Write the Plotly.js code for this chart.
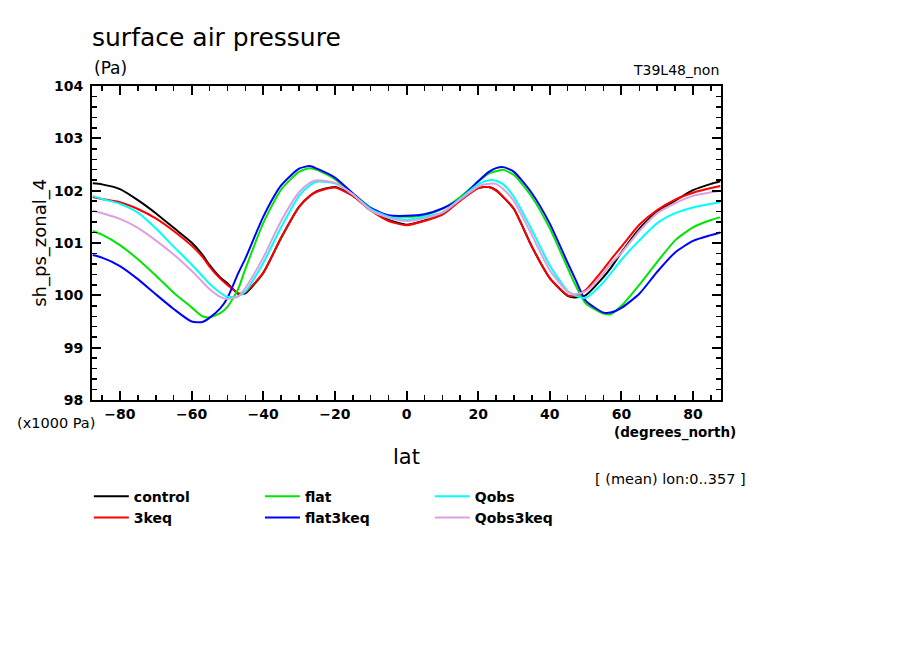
<!DOCTYPE html>
<html>
<head>
<meta charset="utf-8">
<script src="https://cdn.plot.ly/plotly-3.0.1.min.js"></script>
<style>html,body{margin:0;padding:0;background:#fff;}#chart{width:904px;height:654px;}</style>
</head>
<body>
<div id="chart"></div>
<script>
// latitude (degrees_north)
var lat = [-87.6,-85,-80,-75,-70,-65,-60,-57,-55,-52,-50,-47,-45,-40,-35,-30,-27,-25,-20,-15,-10,-5,0,5,10,15,20,23,25,27,30,35,40,45,47,50,55,57,60,65,70,75,80,85,87.6];

// surface air pressure (x1000 Pa)
var control  = [102.14,102.12,102.03,101.82,101.57,101.29,101.01,100.78,100.58,100.34,100.23,100.03,100.04,100.43,101.10,101.69,101.90,101.99,102.07,101.91,101.63,101.44,101.35,101.43,101.55,101.82,102.05,102.07,102.01,101.88,101.65,100.93,100.33,99.99,99.96,100.00,100.35,100.52,100.82,101.27,101.60,101.81,102.01,102.13,102.18];
var keq3     = [101.88,101.84,101.78,101.65,101.47,101.23,100.95,100.74,100.55,100.32,100.20,100.04,100.06,100.43,101.10,101.69,101.90,101.98,102.06,101.90,101.62,101.42,101.34,101.42,101.54,101.81,102.05,102.07,102.00,101.88,101.65,100.93,100.33,100.00,99.99,100.10,100.50,100.68,100.93,101.35,101.63,101.83,101.96,102.05,102.09];
var flat     = [101.23,101.16,100.96,100.69,100.38,100.05,99.77,99.60,99.58,99.66,99.78,100.12,100.50,101.38,102.02,102.36,102.43,102.40,102.22,101.93,101.65,101.52,101.50,101.53,101.65,101.88,102.17,102.33,102.37,102.40,102.30,101.88,101.28,100.52,100.22,99.85,99.65,99.64,99.80,100.20,100.64,101.05,101.30,101.44,101.49];
var flat3keq = [100.77,100.72,100.56,100.31,100.02,99.74,99.50,99.49,99.57,99.75,99.95,100.42,100.70,101.50,102.10,102.42,102.47,102.42,102.25,101.95,101.67,101.53,101.52,101.55,101.66,101.85,102.18,102.36,102.43,102.45,102.36,101.95,101.37,100.62,100.33,99.90,99.67,99.67,99.76,100.03,100.45,100.82,101.04,101.15,101.20];
var qobs     = [101.90,101.84,101.75,101.58,101.28,100.93,100.59,100.37,100.22,100.05,99.97,99.98,100.07,100.62,101.30,101.90,102.10,102.17,102.14,101.93,101.65,101.50,101.44,101.50,101.58,101.85,102.12,102.20,102.19,102.12,101.88,101.25,100.57,100.08,100.00,99.95,100.25,100.42,100.68,101.05,101.38,101.57,101.68,101.75,101.78];
var qobs3keq = [101.62,101.57,101.46,101.29,101.05,100.78,100.47,100.26,100.12,99.97,99.93,99.98,100.14,100.72,101.42,101.97,102.15,102.20,102.15,101.93,101.62,101.48,101.42,101.47,101.58,101.83,102.08,102.13,102.13,102.03,101.80,101.15,100.48,100.07,100.02,100.08,100.42,100.60,100.81,101.23,101.57,101.76,101.90,101.97,102.00];

var seriesNames  = ['control','3keq','flat','flat3keq','Qobs','Qobs3keq'];
var seriesValues = [control, keq3, flat, flat3keq, qobs, qobs3keq];
var seriesColors = ['#000000','#ff0000','#00e600','#0000ff','#00ffff','#dda0dd'];
var seriesLegend = ['legend','legend','legend2','legend2','legend3','legend3'];

var xTicks = [-80,-60,-40,-20,0,20,40,60,80];
var yTicks = [98,99,100,101,102,103,104];

var FONT = '"DejaVu Sans", "Liberation Sans", sans-serif';

var traces = seriesNames.map(function(n,i){
  return {
    x: lat, y: seriesValues[i], name: n, type: 'scatter', mode: 'lines',
    legend: seriesLegend[i],
    line: {color: seriesColors[i], width: 2, shape: 'spline', smoothing: 0.6},
    hoverinfo: 'skip'
  };
});

var axisCommon = {
  showline: true, linecolor: '#000', linewidth: 2, mirror: 'ticks',
  ticks: 'inside', ticklen: 9, tickwidth: 2, tickcolor: '#000',
  showgrid: false, zeroline: false,
  tickfont: {family: FONT, size: 14, color: '#000', weight: 'bold'}
};

function legendAt(x) {
  return {
    orientation: 'v', x: x, xanchor: 'left', y: -0.257, yanchor: 'top',
    font: {family: FONT, size: 14, color: '#000', weight: 'bold'},
    itemwidth: 35, tracegroupgap: 0, bgcolor: 'rgba(0,0,0,0)', traceorder: 'normal'
  };
}

var layout = {
  width: 904, height: 654,
  margin: {l: 92, r: 183, t: 86, b: 254, pad: 0},
  paper_bgcolor: '#fff', plot_bgcolor: '#fff',
  showlegend: true,
  legend: legendAt(-0.005),
  legend2: legendAt(0.267),
  legend3: legendAt(0.537),
  xaxis: Object.assign({}, axisCommon, {
    range: [-87.8, 87.8], tickmode: 'array', tickvals: xTicks,
    minor: {dtick: 5, tick0: 0, ticks: 'inside', ticklen: 5, tickwidth: 1.5, tickcolor: '#000'}
  }),
  yaxis: Object.assign({}, axisCommon, {
    range: [98, 104], tickmode: 'array', tickvals: yTicks, ticklabelstandoff: 4,
    minor: {dtick: 0.2, tick0: 98, ticks: 'inside', ticklen: 5, tickwidth: 1.5, tickcolor: '#000'}
  }),
  annotations: [
    {xref:'paper', yref:'paper', x:-0.003, y:1.153, xanchor:'left', yanchor:'middle', showarrow:false,
     text:'surface air pressure', font:{family:FONT, size:25, color:'#000'}},
    {xref:'paper', yref:'paper', x:0, y:1.057, xanchor:'left', yanchor:'middle', showarrow:false,
     text:'(Pa)', font:{family:FONT, size:17, color:'#000'}},
    {xref:'paper', yref:'paper', x:1, y:1.05, xanchor:'right', yanchor:'middle', showarrow:false,
     text:'T39L48_non', font:{family:FONT, size:14, color:'#000'}},
    {xref:'paper', yref:'paper', x:-0.083, y:0.5, xanchor:'center', yanchor:'middle', showarrow:false, textangle:-90,
     text:'sh_ps_zonal_4', font:{family:FONT, size:18, color:'#000'}},
    {xref:'paper', yref:'paper', x:-0.123, y:-0.073, xanchor:'left', yanchor:'middle', showarrow:false,
     text:'(x1000 Pa)', font:{family:FONT, size:14.5, color:'#000'}},
    {xref:'paper', yref:'paper', x:1.027, y:-0.105, xanchor:'right', yanchor:'middle', showarrow:false,
     text:'(degrees_north)', font:{family:FONT, size:13.5, color:'#000', weight:'bold'}},
    {xref:'paper', yref:'paper', x:0.5, y:-0.18, xanchor:'center', yanchor:'middle', showarrow:false,
     text:'lat', font:{family:FONT, size:21, color:'#000'}},
    {xref:'paper', yref:'paper', x:1.043, y:-0.252, xanchor:'right', yanchor:'middle', showarrow:false,
     text:'[ (mean) lon:0..357 ]', font:{family:FONT, size:14.5, color:'#000'}}
  ]
};

Plotly.newPlot('chart', traces, layout, {displayModeBar: false, staticPlot: true});
</script>
</body>
</html>
